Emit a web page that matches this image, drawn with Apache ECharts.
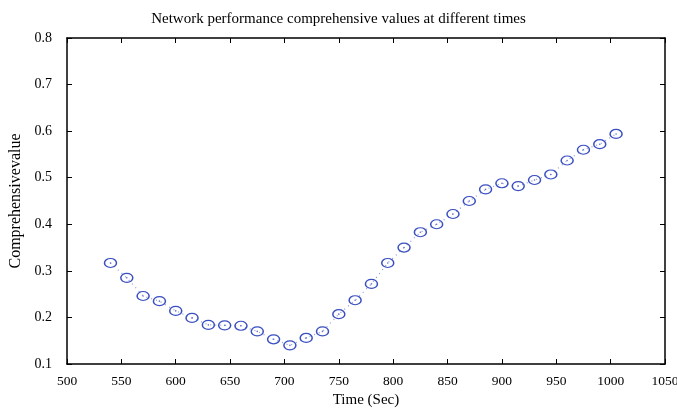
<!DOCTYPE html>
<html><head><meta charset="utf-8">
<script src="https://cdn.jsdelivr.net/npm/echarts@6/dist/echarts.min.js"></script>
<style>html,body{margin:0;padding:0;background:#fff}#c{width:677px;height:410px}</style>
</head><body><div id="c"></div>
<script>
const times = [540,555,570,585,600,615,630,645,660,675,690,705,720,735,750,765,780,795,810,825,840,855,870,885,900,915,930,945,960,975,990,1005];
const values = [0.317,0.285,0.246,0.235,0.214,0.199,0.184,0.183,0.182,0.170,0.153,0.140,0.156,0.170,0.207,0.237,0.272,0.317,0.350,0.383,0.400,0.422,0.450,0.475,0.488,0.482,0.495,0.507,0.537,0.560,0.572,0.594];
const titleText = 'Network performance comprehensive values at different times';
const xName = 'Time (Sec)';
const yName = 'Comprehensivevalue';

const pts = times.map((t,i)=>[t, values[i]]);
const font = 'Liberation Serif';
const ellipse = 'path://M0,5A6,5 0 1,1 12,5A6,5 0 1,1 0,5Z';
const chart = echarts.init(document.getElementById('c'));
const axisCommon = {
  axisLine:{show:true,lineStyle:{color:'#000',width:1.5}},
  axisTick:{show:true,inside:true,length:5,lineStyle:{color:'#000',width:1}},
  splitLine:{show:false}
};
chart.setOption({
  animation:false,
  backgroundColor:'#fff',
  title:{text:titleText,left:'center',top:7,textStyle:{fontFamily:font,fontSize:15,fontWeight:'normal',color:'#000'}},
  grid:{left:67,right:12,top:38,bottom:46,containLabel:false,outerBoundsMode:'none'},
  xAxis:[
    Object.assign({type:'value',min:500,max:1050,interval:50,position:'bottom',
      name:xName,nameLocation:'middle',nameGap:29,
      nameTextStyle:{fontFamily:font,fontSize:15,color:'#000'},
      axisLabel:{fontFamily:font,fontSize:13.5,color:'#000',margin:10,formatter:v=>String(v)}},axisCommon),
    Object.assign({type:'value',min:500,max:1050,interval:50,position:'top',axisLabel:{show:false}},axisCommon)
  ],
  yAxis:[
    Object.assign({type:'value',min:0.1,max:0.8,interval:0.1,position:'left',
      name:yName,nameLocation:'middle',nameGap:41,
      nameTextStyle:{fontFamily:font,fontSize:16,color:'#000'},
      axisLabel:{fontFamily:font,fontSize:14,color:'#000',margin:15,formatter:v=>v.toFixed(1)}},axisCommon),
    Object.assign({type:'value',min:0.1,max:0.8,interval:0.1,position:'right',axisLabel:{show:false}},axisCommon)
  ],
  series:[
    {type:'line',data:pts,symbol:ellipse,symbolSize:[12,9],showSymbol:true,
     lineStyle:{type:[1,4],color:'#8c9ad6',width:1.2},
     itemStyle:{color:'rgba(0,0,0,0)',borderColor:'#3a4fc0',borderWidth:1.3},z:3},
    {type:'scatter',data:pts,symbol:'circle',symbolSize:1.6,itemStyle:{color:'#3a4fc0'},z:4}
  ]
});
</script></body></html>
